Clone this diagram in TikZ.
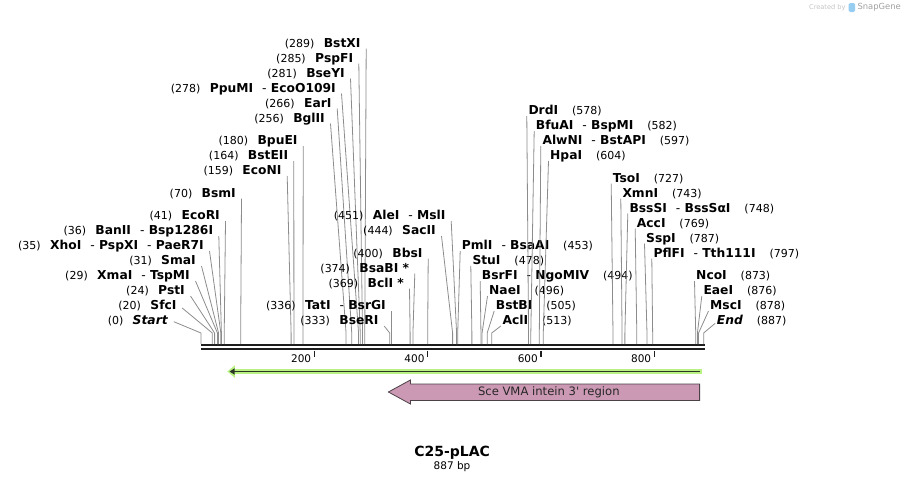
\documentclass[tikz,border=0pt]{standalone}
\usepackage{fontspec}
\setmainfont{DejaVu Sans}
\newfontfamily\rawfont{DejaVu Sans}[Ligatures=TeXOff]
\usetikzlibrary{calc,arrows.meta}
\definecolor{lead}{RGB}{140,140,140}
\definecolor{barc}{RGB}{30,30,30}
\definecolor{gl}{RGB}{185,242,130}
\definecolor{gd}{RGB}{45,55,40}
\definecolor{pinkf}{RGB}{204,153,180}
\definecolor{pinkd}{RGB}{75,65,70}
\definecolor{sgray}{RGB}{195,195,195}
\definecolor{sgray2}{RGB}{160,160,160}
\definecolor{sblue}{RGB}{150,205,240}
\newcommand\hy{\hspace{9pt}{\mdseries -}\ }
\newcommand\labL[7]{%
  \node[nmL] (#1) at (#2,#3+4.5) {#4};
  \node[nbL] (n#1) at ($(#1.base west)+(-9,0)$) {(#5)};
  \draw[ld] ($(#1.base east)+(5.5,#7)$) -- (k#6) -- (s#6);
}
\newcommand\labR[7]{%
  \node[nmR] (#1) at (#2,#3+4.5) {#4};
  \node[nbR] (n#1) at ($(#1.base east)+(13.5,0)$) {(#5)};
  \draw[ld] ($(#1.base west)+(-1.5,#7)$) -- (k#6) -- (s#6);
}
\begin{document}
\begin{tikzpicture}[x=1pt,y=-1pt,
  nm/.style={inner sep=0pt, font=\fontsize{12.3}{14}\selectfont\bfseries},
  nmL/.style={nm, anchor=base east},
  nmR/.style={nm, anchor=base west},
  nb/.style={inner sep=0pt, font=\fontsize{11}{13}\selectfont},
  nbL/.style={nb, anchor=base east},
  nbR/.style={nb, anchor=base west},
  ld/.style={draw=lead, line width=0.8pt},
  tickmark/.style={draw=barc, line width=1.6pt},
  ticklbl/.style={inner sep=0pt, anchor=east, font=\fontsize{10.5}{12}\selectfont},
]
\useasboundingbox (0,0) rectangle (906,483);
% site coordinates on the bar
\foreach \p in {0,20,24,29,31,35,36,41,70,159,164,180,256,266,278,281,285,289,333,336,369,374,400,444,451,453,478,494,496,505,513,578,582,597,604,727,743,748,769,787,797,873,876,878,887}{
  \coordinate (k\p) at ({201+0.5667*\p},333);
  \coordinate (s\p) at ({201+0.5667*\p},344);
}
% bar
\coordinate (barL) at (201,345.2);
\coordinate (barR) at (705,345.2);
\draw[barc, line width=2.5pt] (barL) -- (barR);
\draw[barc, line width=2.4pt] ($(barL)+(0,4)$) -- ($(barR)+(0,4)$);
\foreach \v in {200,400,600,800}{
  \coordinate (t\v) at ({201+0.5667*\v},350.5);
  \draw[tickmark] (t\v) -- ++(0,6.2);
  \node[ticklbl] (tl\v) at ($(t\v)+(-3,7.8)$) {\v};
}
% left labels
\labL{Start}{168.3}{320}{\textit{Start}}{0}{0}{-2.8}
\labL{SfcI}{176.7}{305}{SfcI}{20}{20}{-1.5}
\labL{PstI}{185}{290}{PstI}{24}{24}{1.5}
\labL{XmaI}{190}{275}{XmaI\hy TspMI}{29}{29}{1.5}
\labL{SmaI}{196}{260}{SmaI}{31}{31}{1.5}
\labL{XhoI}{204}{245}{XhoI\hy PspXI\hy PaeR7I}{35}{35}{1.5}
\labL{BanII}{213.3}{230}{BanII\hy Bsp1286I}{36}{36}{1.5}
\labL{EcoRI}{220}{215}{EcoRI}{41}{41}{1.5}
\labL{BsmI}{236}{192.5}{BsmI}{70}{70}{1.5}
\labL{EcoNI}{281.7}{170}{EcoNI}{159}{159}{1.5}
\labL{BstEII}{288.3}{155}{BstEII}{164}{164}{1.5}
\labL{BpuEI}{297.7}{140}{BpuEI}{180}{180}{1.5}
\labL{BglII}{325}{117.5}{BglII}{256}{256}{1.5}
\labL{EarI}{331.7}{102.5}{EarI}{266}{266}{1.5}
\labL{PpuMI}{336}{87.5}{PpuMI\hy EcoO109I}{278}{278}{1.5}
\labL{BseYI}{345}{72.5}{BseYI}{281}{281}{1.5}
\labL{PspFI}{353.3}{57.5}{PspFI}{285}{285}{1.5}
\labL{BstXI}{360.7}{42.5}{BstXI}{289}{289}{1.5}
\labL{BseRI}{378.7}{320}{BseRI}{333}{333}{1.5}
\labL{TatI}{386}{305}{TatI\hy BsrGI}{336}{336}{1.5}
\labL{BclI}{404}{282.5}{BclI *}{369}{369}{1.5}
\labL{BsaBI}{409.3}{267.5}{BsaBI *}{374}{374}{1.5}
\labL{BbsI}{422.7}{252.5}{BbsI}{400}{400}{1.5}
\labL{SacII}{436}{230}{SacII}{444}{444}{1.5}
\labL{AleI}{445.7}{215}{AleI\hy MslI}{451}{451}{1.5}
% right labels
\labR{PmlI}{461.7}{245}{PmlI\hy BsaAI}{453}{453}{1.5}
\labR{StuI}{472.3}{260}{StuI}{478}{478}{1.5}
\labR{BsrFI}{481.7}{275}{BsrFI\hy NgoMIV}{494}{494}{1.5}
\labR{NaeI}{489}{290}{NaeI}{496}{496}{1.5}
\labR{BstBI}{495.7}{305}{BstBI}{505}{505}{1.5}
\labR{AclI}{502.3}{320}{AclI}{513}{513}{1.5}
\labR{DrdI}{528.3}{110}{DrdI}{578}{578}{1.5}
\labR{BfuAI}{535.7}{125}{BfuAI\hy BspMI}{582}{582}{1.5}
\labR{AlwNI}{542.3}{140}{AlwNI\hy BstAPI}{597}{597}{1.5}
\labR{HpaI}{550}{155}{HpaI}{604}{604}{1.5}
\labR{TsoI}{612.7}{177.5}{TsoI}{727}{727}{1.5}
\labR{XmnI}{622.3}{192.5}{XmnI}{743}{743}{1.5}
\labR{BssSI}{629.3}{207.5}{BssSI\hy BssSαI}{748}{748}{1.5}
\labR{AccI}{636.7}{222.5}{AccI}{769}{769}{1.5}
\labR{SspI}{646}{237.5}{SspI}{787}{787}{1.5}
\labR{PflFI}{653.3}{252.5}{PflFI\hy Tth111I}{797}{797}{1.5}
\labR{NcoI}{696}{275}{NcoI}{873}{873}{1.5}
\labR{EaeI}{703.3}{290}{EaeI}{876}{876}{1.5}
\labR{MscI}{710}{305}{MscI}{878}{878}{1.5}
\labR{End}{716.7}{320}{\textit{End}}{887}{887}{-1.2}
% green arrow
\coordinate (gR) at (702.3,371.5);
\coordinate (gL) at (227.3,371.5);
\draw[gl, line width=4.8pt, -{Triangle[length=7.5pt,width=12pt]}] (gR) -- (gL);
\draw[gd, line width=1.8pt, -{Triangle[length=5pt,width=6pt]}] ($(gR)+(-2.5,0)$) -- ($(gL)+(2.2,0)$);
% pink feature arrow
\draw[fill=pinkf, draw=pinkd, line width=0.8pt]
  (699.6,384) -- (410.4,384) -- (410.4,380) -- (388.4,392) -- (410.4,404) -- (410.4,400.4) -- (699.6,400.4) -- cycle;
\node[inner sep=0pt, font=\rawfont\fontsize{11.6}{13}\selectfont, text=black!85] (feat) at (548.8,392) {Sce VMA intein 3' region};
% title
\node[inner sep=0pt, font=\fontsize{14}{16}\selectfont\bfseries] (title) at (452.2,452.3) {C25-pLAC};
\node[inner sep=0pt, font=\fontsize{10.5}{12}\selectfont] (size) at (452,466.5) {887 bp};
% watermark
\node[inner sep=0pt, anchor=east, font=\fontsize{6.6}{8}\selectfont, text=sgray] (cby) at (845.7,7.5) {Created by};
\fill[sblue, rounded corners=1.5pt] (848.5,3) rectangle (855,12);
\node[inner sep=0pt, anchor=west, font=\fontsize{8.4}{10}\selectfont, text=sgray2] (sg) at (857.3,7.5) {SnapGene};
\end{tikzpicture}
\end{document}
